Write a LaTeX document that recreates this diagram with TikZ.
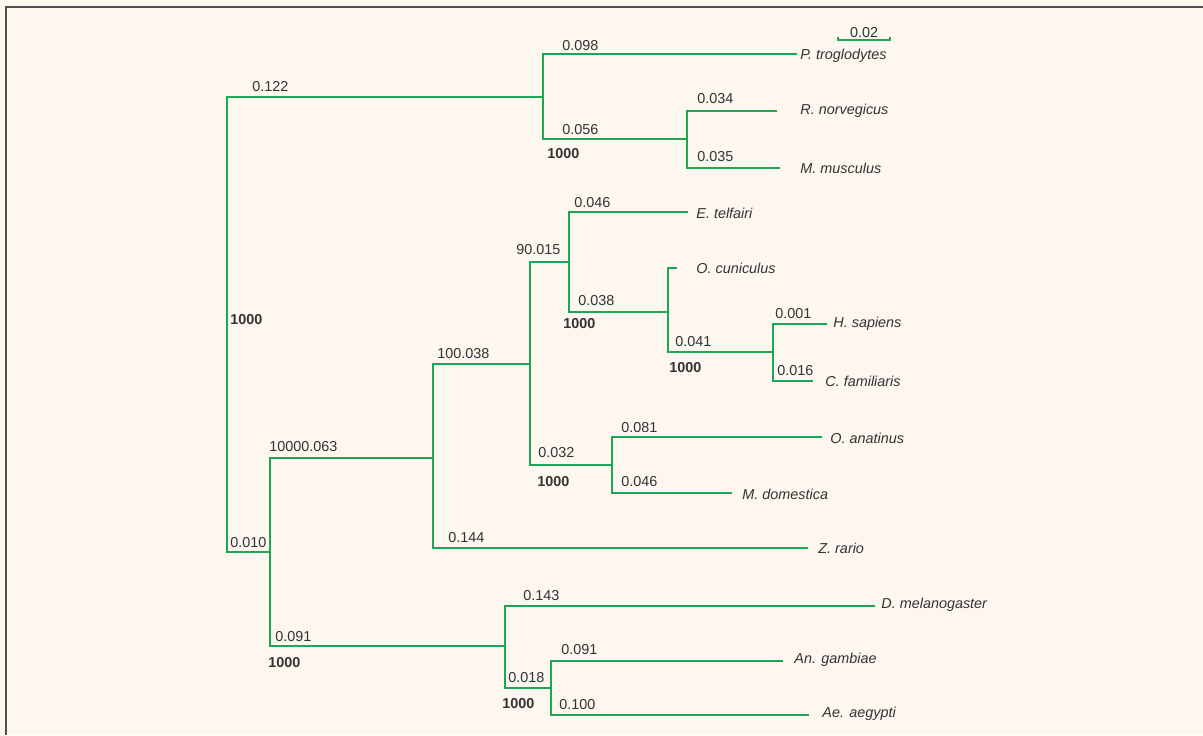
\documentclass[tikz,border=0pt]{standalone}
\usepackage{fontspec}
\setmainfont{Liberation Sans}
\usetikzlibrary{positioning}

\definecolor{treegreen}{RGB}{28,166,86}
\definecolor{textgray}{RGB}{51,51,51}
\definecolor{paper}{RGB}{253,247,240}
\definecolor{framegray}{RGB}{80,80,80}

\begin{document}
\begin{tikzpicture}[x=0.5pt,y=-0.5pt,
  branch/.style={treegreen, line width=0.6pt},
  blen/.style={anchor=west, inner sep=0pt, text=textgray,
    font=\fontsize{7.2}{8}\selectfont},
  boot/.style={blen, font=\fontsize{7.2}{8}\selectfont\bfseries},
  taxon/.style={blen, font=\fontsize{7.2}{8}\selectfont\itshape}]

  % page and frame
  \fill[paper] (0,0) rectangle (1203,735);
  \useasboundingbox (0,0) rectangle (1203,735);
  \draw[framegray, line width=1pt] (6,735) -- (6,7) -- (1203,7);

  % inner nodes of the tree
  \coordinate (root) at (227,320);
  \coordinate (A) at (543,97);
  \coordinate (B) at (687,139);
  \coordinate (C) at (270,552);
  \coordinate (D) at (433,458);
  \coordinate (E) at (530,364);
  \coordinate (F) at (569,262);
  \coordinate (G) at (668,312);
  \coordinate (H) at (773,352);
  \coordinate (J) at (612,465);
  \coordinate (K) at (505,646);
  \coordinate (L) at (551,688);

  % ends of the leaf branches
  \coordinate (ptro) at (797,54);
  \coordinate (rnor) at (777,111);
  \coordinate (mmus) at (780,168);
  \coordinate (etel) at (688,212);
  \coordinate (ocun) at (677,268);
  \coordinate (hsap) at (827,324);
  \coordinate (cfam) at (813,381);
  \coordinate (oana) at (822,437);
  \coordinate (mdom) at (732,493);
  \coordinate (zrar) at (808,548);
  \coordinate (dmel) at (875,606);
  \coordinate (agam) at (783,661);
  \coordinate (aaeg) at (809,715);

  % branches
  \draw[branch] (root) |- (A);
  \draw[branch] (root) |- (C);
  \draw[branch] (A) |- (ptro);
  \draw[branch] (A) |- (B);
  \draw[branch] (B) |- (rnor);
  \draw[branch] (B) |- (mmus);
  \draw[branch] (C) |- (D);
  \draw[branch] (C) |- (K);
  \draw[branch] (D) |- (E);
  \draw[branch] (D) |- (zrar);
  \draw[branch] (E) |- (F);
  \draw[branch] (E) |- (J);
  \draw[branch] (F) |- (etel);
  \draw[branch] (F) |- (G);
  \draw[branch] (G) |- (ocun);
  \draw[branch] (G) |- (H);
  \draw[branch] (H) |- (hsap);
  \draw[branch] (H) |- (cfam);
  \draw[branch] (J) |- (oana);
  \draw[branch] (J) |- (mdom);
  \draw[branch] (K) |- (dmel);
  \draw[branch] (K) |- (L);
  \draw[branch] (L) |- (agam);
  \draw[branch] (L) |- (aaeg);

  % taxon names
  \node[taxon] (tptro) at (800,56) {P. troglodytes};
  \node[taxon] (trnor) at (800,111) {R. norvegicus};
  \node[taxon] (tmmus) at (800,168) {M. musculus};
  \node[taxon] (tetel) at (696,213) {E. telfairi};
  \node[taxon] (tocun) at (696,268) {O. cuniculus};
  \node[taxon] (thsap) at (833,324) {H. sapiens};
  \node[taxon] (tcfam) at (825,381) {C. familiaris};
  \node[taxon] (toana) at (830,438) {O. anatinus};
  \node[taxon] (tmdom) at (742,494) {M. domestica};
  \node[taxon] (tzrar) at (818,548) {Z. rario};
  \node[taxon] (tdmel) at (881,605) {D. melanogaster};
  \node[taxon] (tagam) at (794,660) {An. gambiae};
  \node[taxon] (taaeg) at (822,714) {Ae. aegypti};

  % branch lengths
  \node[blen] (lA) at (252,87) {0.122};
  \node[blen] (lptro) at (562,46) {0.098};
  \node[blen] (lB) at (562,130) {0.056};
  \node[blen] (lrnor) at (697,99) {0.034};
  \node[blen] (lmmus) at (697,157) {0.035};
  \node[blen] (lF) at (516,250) {90.015};
  \node[blen] (letel) at (574,203) {0.046};
  \node[blen] (lG) at (578,301) {0.038};
  \node[blen] (lE) at (437,354) {100.038};
  \node[blen] (lH) at (675,342) {0.041};
  \node[blen] (lhsap) at (775,314) {0.001};
  \node[blen] (lcfam) at (777,371) {0.016};
  \node[blen] (lJ) at (538,453) {0.032};
  \node[blen] (loana) at (621,428) {0.081};
  \node[blen] (lmdom) at (621,482) {0.046};
  \node[blen] (lD) at (269,447) {10000.063};
  \node[blen] (lC) at (230,543) {0.010};
  \node[blen] (lzrar) at (448,538) {0.144};
  \node[blen] (ldmel) at (523,596) {0.143};
  \node[blen] (lK) at (275,637) {0.091};
  \node[blen] (lL) at (508,678) {0.018};
  \node[blen] (lagam) at (561,650) {0.091};
  \node[blen] (laaeg) at (559,705) {0.100};

  % bootstrap values
  \node[boot] (broot) at (230,320) {1000};
  \node[boot] (bB) at (547,154) {1000};
  \node[boot] (bG) at (563,324) {1000};
  \node[boot] (bH) at (669,368) {1000};
  \node[boot] (bJ) at (537,482) {1000};
  \node[boot] (bK) at (268,663) {1000};
  \node[boot] (bL) at (502,704) {1000};

  % scale bar
  \coordinate (sbl) at (838,40);
  \coordinate (sbr) at (890,40);
  \draw[branch] ([yshift=1.5pt]sbl) -- (sbl) -- (sbr) -- ([yshift=1.5pt]sbr);
  \node[blen, anchor=center] (sbtext) at (864,33) {0.02};
\end{tikzpicture}
\end{document}
